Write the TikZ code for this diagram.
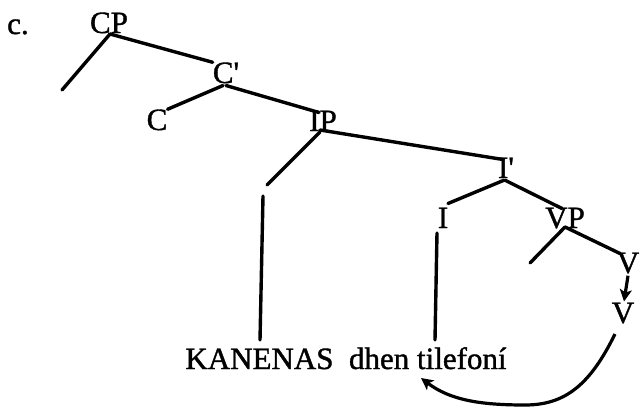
\documentclass[tikz,border=0pt]{standalone}
\usepackage{fontspec}
\setmainfont{Liberation Serif}
\newfontfamily\treefont{Liberation Serif}[FakeBold=1.2]
\usetikzlibrary{arrows.meta}
\begin{document}
\begin{tikzpicture}[x=1pt,y=-1pt,
  lab/.style={inner sep=0pt,anchor=base,font=\treefont\fontsize{31}{36}\selectfont},
  br/.style={line width=3.4pt,line cap=round},
  mv/.style={line width=3.2pt,-{Stealth[length=12pt,width=12pt,inset=3pt]}}]
\useasboundingbox (0,0) rectangle (640,408);
% labels
\node[lab,anchor=base west] (c) at (7,34) {c.};
\node[lab] (CP) at (109,33) {CP};
\node[lab] (Cb) at (226,83) {C\textquotesingle};
\node[lab] (C) at (157,130) {C};
\node[lab] (IP) at (323,131) {IP};
\node[lab] (Ib) at (506,178) {I\textquotesingle};
\node[lab] (I) at (443,228) {I};
\node[lab] (VP) at (565,228) {VP};
\node[lab] (Vb) at (628,273) {V};
\node[lab] (V) at (623,323) {V};
\node[lab] (S) at (346,369) {KANENAS\ \ dhen tilefoní};
% free ends
\coordinate (spec) at (62,90);
\coordinate (ipl) at (267,185);
\coordinate (ipv) at (263,196);
\coordinate (kan) at (260,340);
\coordinate (ivt) at (437,233);
\coordinate (iv) at (435,340);
\coordinate (vpl) at (530,263);
\coordinate (tile) at (421,378);
% branches
\draw[br] (110,34) -- (spec);
\draw[br] (110,34) -- (Cb.north west);
\draw[br] ([shift={(-3,2)}]Cb.south) -- (C.north east);
\draw[br] ([shift={(0,2)}]Cb.south) -- ([shift={(-4,2)}]IP.north);
\draw[br] (320,132) -- (ipl);
\draw[br] (ipv) -- (kan);
\draw[br] (320,130) -- ([shift={(-3,2)}]Ib.north);
\draw[br] ([shift={(-2,2)}]Ib.south) -- ([shift={(5,-4)}]I.north);
\draw[br] (ivt) -- (iv);
\draw[br] ([shift={(-1,2)}]Ib.south) -- ([shift={(-3,1)}]VP.north);
\draw[br] (565,227) -- (vpl);
\draw[br] (565,227) -- ([shift={(-8,1)}]Vb.north);
% movement
\draw[mv] ([shift={(0,2)}]Vb.south) -- ([shift={(1,-1)}]V.north);
\draw[mv] (615,334) .. controls (590,385) and (565,405) .. (525,405)
          .. controls (480,405) and (450,400) .. (tile);
\end{tikzpicture}
\end{document}
